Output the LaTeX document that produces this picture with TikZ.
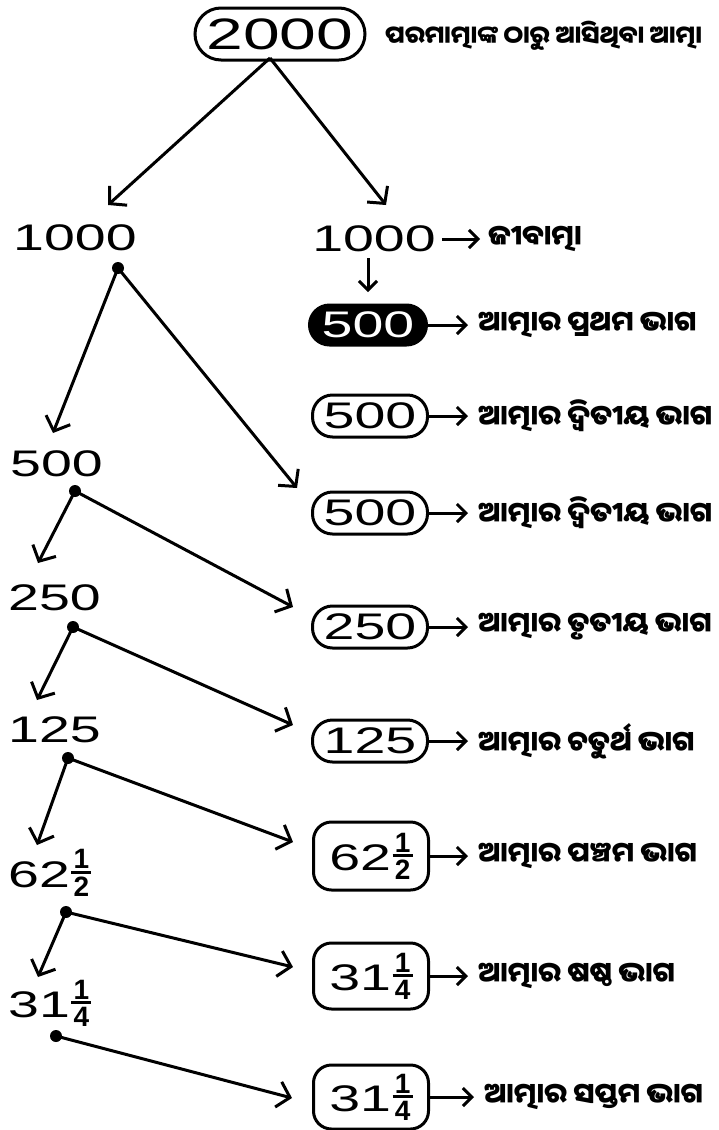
\documentclass[tikz,border=0pt]{standalone}
\usepackage{fontspec}
\setmainfont{Liberation Sans}
\newfontfamily\numfont[FakeStretch=1.5]{Liberation Sans}
\newfontfamily\odia[Script=Oriya]{Noto Sans Oriya UI}
\usetikzlibrary{arrows.meta}
\newcommand{\fr}[2]{\kern1.5pt\raisebox{-9pt}{\vbox{\rmfamily\bfseries\fontsize{28}{28}\selectfont\hbox to 20pt{\hss#1\hss}\kern2pt\hrule height 3pt\kern2.5pt\hbox to 20pt{\hss#2\hss}}}}
\begin{document}
\begin{tikzpicture}[x=1pt,y=-1pt,
  num/.style={font=\numfont\fontsize{37}{37}\selectfont, inner sep=0pt},
  bignum/.style={font=\numfont\fontsize{44}{44}\selectfont, inner sep=0pt},
  pill/.style={num, draw, line width=3pt, rounded corners=20pt, minimum width=115pt, minimum height=42pt, align=center},
  fbox/.style={pill, rounded corners=18pt, minimum height=66pt},
  lab/.style={font=\odia\bfseries\fontsize{28}{32}\selectfont, anchor=west, inner sep=0pt},
  dot/.style={circle, fill=black, inner sep=0pt, minimum size=12pt},
  arr/.style={line width=3pt, -{Straight Barb[length=12pt,width=26pt]}},
  sarr/.style={line width=3pt, -{Straight Barb[length=9pt,width=18pt]}}
]
\useasboundingbox (0,0) rectangle (718,1130);

% top
\node[bignum, draw, line width=3pt, rounded corners=26pt, minimum width=170pt, minimum height=52pt] (top) at (280,34) {2000};
\node[lab, font=\odia\bfseries\fontsize{24.5}{30}\selectfont] (ltop) at (385,36) {ପରମାତ୍ମାଙ୍କ ଠାରୁ ଆସିଥିବା ଆତ୍ମା};
\coordinate (t0) at (270,58);
\coordinate (tL) at (108,205);
\coordinate (tR) at (386,205);
\draw[arr] (t0) -- (tL);
\draw[arr] (t0) -- (tR);

% right column
\node[num] (r1000) at (374,239) {1000};
\node[lab] (ljiv) at (488,239) {ଜୀବାତ୍ମା};
\draw[sarr] (r1000.east) ++(6,0) coordinate (r1e) -- ([xshift=-8pt]ljiv.west);
\coordinate (dn0) at (368,258);
\coordinate (dn1) at (368,292);
\draw[sarr] (dn0) -- (dn1);

\node[pill, fill=black, text=white, minimum width=117pt, minimum height=40pt] (b1) at (368,325) {500};
\node[lab] (l1) at (478,325) {ଆତ୍ମାର ପ୍ରଥମ ଭାଗ};
\node[pill] (b2) at (370,416) {500};
\node[lab] (l2) at (478,416) {ଆତ୍ମାର ଦ୍ୱିତୀୟ ଭାଗ};
\node[pill] (b3) at (370,513) {500};
\node[lab] (l3) at (478,513) {ଆତ୍ମାର ଦ୍ୱିତୀୟ ଭାଗ};
\node[pill] (b4) at (370,627) {250};
\node[lab] (l4) at (478,627) {ଆତ୍ମାର ତୃତୀୟ ଭାଗ};
\node[pill] (b5) at (370,741) {125};
\node[lab] (l5) at (478,741) {ଆତ୍ମାର ଚତୁର୍ଥ ଭାଗ};
\node[fbox, minimum height=68pt] (b6) at (371,856) {62\fr{1}{2}};
\node[lab] (l6) at (478,856) {ଆତ୍ମାର ପଞ୍ଚମ ଭାଗ};
\node[fbox] (b7) at (371,976) {31\fr{1}{4}};
\node[lab] (l7) at (478,976) {ଆତ୍ମାର ଷଷ୍ଠ ଭାଗ};
\node[fbox, minimum height=64pt] (b8) at (371,1097) {31\fr{1}{4}};
\node[lab] (l8) at (484,1097) {ଆତ୍ମାର ସପ୍ତମ ଭାଗ};

\foreach \i in {1,...,8}{
  \draw[sarr] (b\i.east) -- ([xshift=-10pt]l\i.west);
}

% left column
\node[num, anchor=base west] (L1000) at (13,250) {1000};
\node[num, anchor=base west] (L500) at (10,476) {500};
\node[num, anchor=base west] (L250) at (8,610) {250};
\node[num, anchor=base west] (L125) at (8,742) {125};
\node[num, anchor=base west] (L62) at (8,887) {62\fr{1}{2}};
\node[num, anchor=base west] (L31) at (8,1017) {31\fr{1}{4}};

\node[dot] (d1) at (118,268) {};
\node[dot] (d2) at (75,491) {};
\node[dot] (d3) at (73,627) {};
\node[dot] (d4) at (68,758) {};
\node[dot] (d5) at (66,912) {};
\node[dot] (d6) at (56,1036) {};

\coordinate (e1L) at (53,433);  \coordinate (e1R) at (297,488);
\coordinate (e2L) at (38,563);  \coordinate (e2R) at (293,607);
\coordinate (e3L) at (37,700);  \coordinate (e3R) at (293,725);
\coordinate (e4L) at (37,845);  \coordinate (e4R) at (293,842);
\coordinate (e5L) at (38,977);  \coordinate (e5R) at (293,967);
\coordinate (e6R) at (292,1098);

\foreach \i in {1,...,5}{
  \draw[arr] (d\i.center) -- (e\i L);
  \draw[arr] (d\i.center) -- (e\i R);
}
\draw[arr] (d6.center) -- (e6R);
\end{tikzpicture}
\end{document}
